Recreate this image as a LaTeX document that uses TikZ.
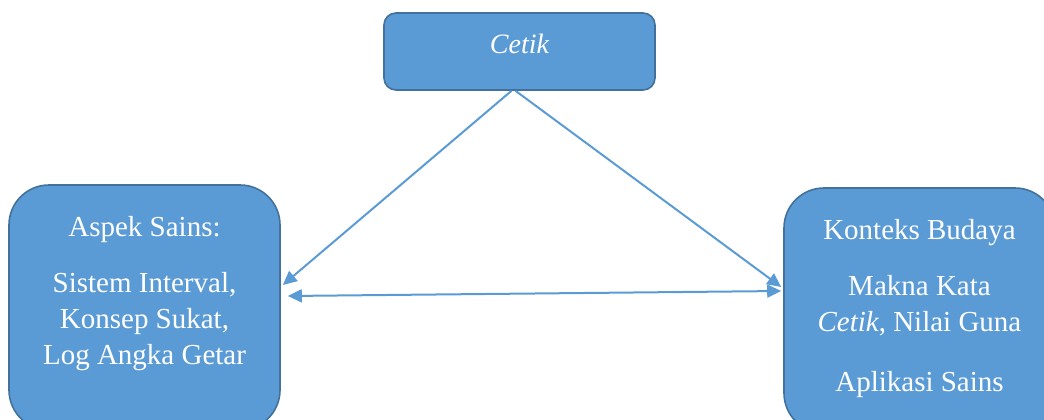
\documentclass[tikz,border=0pt]{standalone}
\usepackage{fontspec}
\setmainfont{Liberation Serif}
\usetikzlibrary{positioning,arrows.meta}
\definecolor{boxfill}{HTML}{5B9BD5}
\definecolor{boxline}{HTML}{41719C}
\begin{document}
\begin{tikzpicture}[x=1pt,y=-1pt,
    box/.style={draw=boxline,fill=boxfill,line width=1.6pt,minimum width=271pt,inner sep=0pt},
    boxtext/.style={text=white,align=center,anchor=north,inner sep=0pt,
      font=\fontsize{29}{36}\selectfont},
    link/.style={draw=boxfill,line width=2pt,-{Triangle[length=14pt,width=13pt]}}]

      \useasboundingbox (0,0) rectangle (1044,420);
      \clip (0,0) rectangle (1044,420);

      % boxes
      \node[box,rounded corners=12pt,minimum height=77pt] (cetik) at (519.5,51.5) {};
      \node[box,rounded corners=40pt,minimum height=245pt] (sains) at (144.5,307.5) {};
      \node[box,rounded corners=40pt,minimum height=245pt] (budaya) at (919.5,310.5) {};

      % texts
      \node[boxtext,font=\fontsize{28}{34}\selectfont\itshape,below=22pt of cetik.north] (cetiktext) {Cetik};
      \node[boxtext,below=32pt of sains.north] (sainstext)
        {Aspek Sains:\\[20pt]Sistem Interval,\\Konsep Sukat,\\Log Angka Getar};
      \node[boxtext,below=32pt of budaya.north] (budayatext)
        {Konteks Budaya\\[20pt]Makna Kata\\\textit{Cetik}, Nilai Guna\\[24pt]Aplikasi Sains};

      % arrows
      \path[link] ([xshift=-8pt]cetik.south) -- ([xshift=2pt,yshift=22.5pt]sains.east);
      \path[link] ([xshift=-4pt]cetik.south) -- ([xshift=-2pt,yshift=23.5pt]budaya.west);
      \path[link,{Triangle[length=14pt,width=13pt]}-{Triangle[length=14pt,width=13pt]}]
        ([xshift=7pt,yshift=11.5pt]sains.east) -- ([xshift=-2pt,yshift=19.5pt]budaya.west);

    \end{tikzpicture}
\end{document}
